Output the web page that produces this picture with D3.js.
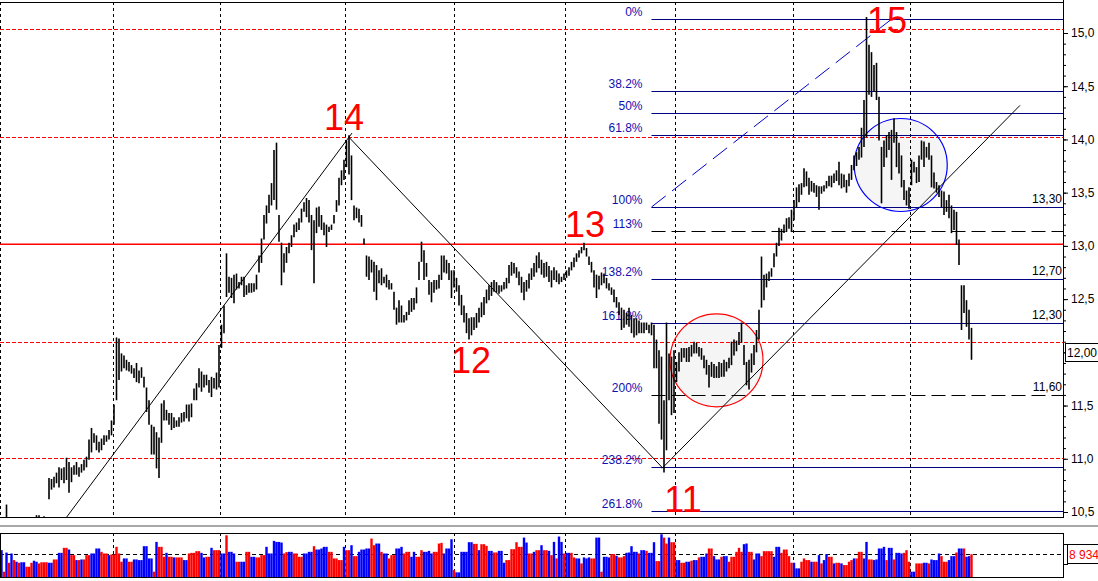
<!DOCTYPE html>
<html><head><meta charset="utf-8">
<script src="https://cdn.jsdelivr.net/npm/d3@7"></script>
<style>body{margin:0;background:#fff;overflow:hidden}svg{display:block;font-family:"Liberation Sans",Arial,sans-serif}</style>
</head><body><svg id="c" width="1098" height="581"></svg>
<script>
const highs = [
10.35,10.30,10.57,10.38,10.36,10.33,10.38,10.35,10.32,10.36,
10.40,10.37,10.34,10.39,10.47,10.47,10.44,10.46,10.45,10.82,
10.81,10.83,10.87,10.92,10.91,10.92,11.01,10.97,10.92,10.94,
10.97,10.92,10.95,10.99,11.02,11.18,11.29,11.24,11.22,11.16,
11.19,11.22,11.22,11.27,11.36,11.51,12.14,12.13,11.99,11.97,
11.93,11.91,11.88,11.85,11.90,11.83,11.86,11.77,11.67,11.55,
11.32,11.30,11.25,11.20,11.52,11.55,11.46,11.43,11.43,11.39,
11.36,11.39,11.43,11.44,11.51,11.51,11.52,11.66,11.71,11.85,
11.82,11.79,11.79,11.74,11.77,11.76,11.81,12.07,12.26,12.44,
12.93,12.71,12.70,12.73,12.74,12.66,12.71,12.71,12.63,12.65,
12.65,12.65,12.73,12.91,13.07,13.29,13.38,13.48,13.59,13.90,
13.97,13.29,13.03,12.93,12.99,13.03,13.10,13.20,13.22,13.26,
13.35,13.41,13.45,13.43,13.29,13.24,13.36,13.37,13.29,13.22,
13.20,13.18,13.20,13.29,13.43,13.64,13.71,13.81,13.99,14.04,
13.85,13.38,13.36,13.35,13.29,13.07,12.91,12.90,12.87,12.85,
12.82,12.77,12.79,12.71,12.73,12.68,12.65,12.57,12.42,12.49,
12.44,12.35,12.38,12.49,12.51,12.51,12.61,12.85,13.04,12.96,
12.84,12.68,12.66,12.68,12.68,12.73,12.91,12.91,12.87,12.84,
12.77,12.77,12.70,12.63,12.54,12.44,12.37,12.32,12.33,12.33,
12.37,12.42,12.47,12.52,12.59,12.63,12.66,12.68,12.66,12.63,
12.63,12.66,12.70,12.82,12.85,12.84,12.80,12.76,12.71,12.66,
12.68,12.74,12.79,12.84,12.91,12.94,12.87,12.84,12.85,12.81,
12.77,12.80,12.77,12.74,12.71,12.74,12.77,12.80,12.85,12.89,
12.93,12.96,12.99,13.03,12.98,12.90,12.85,12.77,12.73,12.72,
12.75,12.74,12.70,12.65,12.61,12.59,12.52,12.47,12.42,12.40,
12.37,12.42,12.35,12.32,12.32,12.30,12.28,12.28,12.28,12.26,
12.28,12.26,12.12,12.02,11.96,11.55,12.28,11.99,11.96,12.02,
11.91,12.00,12.04,12.04,12.04,12.05,12.07,12.10,12.09,12.05,
12.04,11.97,11.93,11.88,11.91,11.89,11.87,11.91,11.90,11.93,
11.91,11.95,12.10,12.12,12.11,12.19,12.28,12.07,11.91,11.93,
11.99,12.07,12.21,12.40,12.90,12.73,12.74,12.76,12.79,12.93,
13.03,13.17,13.16,13.20,13.26,13.27,13.34,13.43,13.55,13.58,
13.59,13.73,13.70,13.64,13.61,13.59,13.57,13.56,13.56,13.57,
13.61,13.66,13.66,13.68,13.71,13.79,13.68,13.67,13.62,13.68,
13.76,13.85,13.88,13.93,14.11,14.37,15.15,14.89,14.82,14.70,
14.72,14.40,13.93,13.99,14.04,14.07,14.09,14.20,14.07,13.97,
13.85,13.62,13.52,13.55,13.81,13.79,13.74,13.85,13.99,13.98,
13.93,13.97,13.85,13.69,13.60,13.57,13.52,13.51,13.43,13.48,
13.38,13.34,13.32,13.06,12.63,12.63,12.49,12.40,12.23];
const lows = [
10.20,10.15,10.40,10.25,10.22,10.20,10.24,10.21,10.18,10.22,
10.26,10.23,10.20,10.25,10.35,10.38,10.30,10.35,10.35,10.62,
10.71,10.73,10.77,10.73,10.80,10.77,10.80,10.68,10.78,10.85,
10.85,10.83,10.87,10.89,10.92,10.99,11.06,11.15,11.08,11.06,
11.08,11.13,11.16,11.18,11.22,11.32,11.55,11.74,11.82,11.85,
11.83,11.82,11.80,11.76,11.72,11.71,11.76,11.67,11.44,11.32,
11.04,11.04,10.91,10.82,11.15,11.36,11.36,11.32,11.27,11.29,
11.30,11.30,11.34,11.35,11.38,11.35,11.39,11.55,11.55,11.67,
11.63,11.67,11.69,11.62,11.58,11.66,11.65,11.67,12.04,12.18,
12.52,12.56,12.51,12.46,12.59,12.60,12.63,12.52,12.54,12.56,
12.56,12.57,12.59,12.75,12.84,13.06,13.21,13.31,13.38,13.43,
13.34,13.04,12.63,12.75,12.84,12.93,12.99,13.08,13.13,13.15,
13.22,13.32,13.27,13.22,12.96,12.65,13.12,13.18,13.15,13.10,
12.99,13.13,13.15,13.21,13.32,13.38,13.57,13.62,13.74,13.67,
13.43,13.24,13.26,13.22,13.18,13.01,12.71,12.68,12.75,12.57,
12.49,12.65,12.63,12.65,12.61,12.59,12.59,12.40,12.26,12.28,
12.28,12.28,12.30,12.35,12.38,12.40,12.46,12.68,12.85,12.68,
12.71,12.54,12.47,12.56,12.59,12.60,12.68,12.75,12.74,12.68,
12.51,12.61,12.57,12.44,12.35,12.28,12.18,12.12,12.16,12.21,
12.23,12.28,12.33,12.35,12.46,12.49,12.53,12.57,12.56,12.55,
12.57,12.59,12.60,12.65,12.72,12.74,12.70,12.63,12.56,12.49,
12.57,12.60,12.68,12.71,12.75,12.79,12.73,12.70,12.71,12.66,
12.61,12.68,12.66,12.64,12.66,12.68,12.70,12.72,12.77,12.80,
12.85,12.89,12.93,12.96,12.90,12.82,12.75,12.61,12.51,12.59,
12.63,12.65,12.60,12.58,12.54,12.47,12.42,12.35,12.21,12.23,
12.26,12.24,12.18,12.14,12.16,12.18,12.18,12.18,12.21,12.18,
12.16,11.85,11.85,11.33,11.18,10.87,11.08,11.55,11.41,11.43,
11.72,11.82,11.91,11.95,11.91,11.91,11.96,11.99,11.99,11.96,
11.93,11.85,11.79,11.67,11.77,11.76,11.76,11.76,11.77,11.77,
11.82,11.85,11.88,11.97,12.01,12.07,12.09,11.88,11.69,11.65,
11.81,11.88,12.00,12.12,12.42,12.49,12.61,12.67,12.71,12.80,
12.90,13.00,13.05,13.12,13.13,13.16,13.13,13.24,13.36,13.41,
13.48,13.55,13.56,13.48,13.51,13.50,13.46,13.34,13.49,13.51,
13.54,13.56,13.55,13.59,13.61,13.57,13.54,13.55,13.50,13.56,
13.62,13.71,13.75,13.81,13.83,13.93,14.02,14.42,14.40,14.45,
14.37,13.99,13.40,13.74,13.83,13.90,13.62,13.97,13.74,13.68,
13.55,13.43,13.38,13.35,13.57,13.69,13.59,13.60,13.81,13.74,
13.83,13.81,13.55,13.54,13.50,13.46,13.36,13.29,13.32,13.26,
13.12,13.15,13.01,12.82,12.21,12.37,12.24,12.12,11.93];
const volumes = [
10550,2090,9600,5600,9250,6650,6000,5600,5800,5800,
4040,4040,5600,6400,6000,5340,5800,5800,5800,5600,
5600,6900,6900,9500,9500,11470,11470,10800,8600,8600,
6650,6650,6900,6900,8600,8600,9250,9250,11210,11210,
9900,9250,9250,8600,8860,8860,11860,9250,6000,7300,
7300,6000,6000,6900,6900,6650,6650,12120,12120,7300,
7300,2090,13800,11860,11860,7950,9500,7950,7950,7700,
7700,7700,7700,6650,6650,9250,9500,9500,10150,10150,
9500,7700,7950,7950,11470,10550,10550,10550,9250,9250,
16400,9900,9900,9250,6000,6000,6000,6000,9900,9900,
7950,7950,7700,7700,8600,8600,11860,9250,9250,14200,
13800,13800,13550,9250,9770,9900,9900,9250,9250,7950,
7950,9250,9250,9900,9900,12120,10800,10800,11210,11860,
11860,9900,9900,7300,7300,6650,6650,11860,10550,10550,
12500,8200,8200,9900,10800,10800,11210,11210,15100,12500,
13160,13160,9900,9250,9250,7300,8600,8600,11210,11210,
11860,9250,9900,9900,7950,9900,7950,7950,10550,9900,
9900,10280,9250,9900,9900,13160,13420,9250,11210,11210,
14850,2740,1830,1830,9900,9900,9900,13680,13680,13030,
13030,10550,12900,12900,12250,10280,10280,9640,9640,10280,
10280,5600,6650,6650,10940,10940,13680,11860,11860,15500,
13550,9250,9250,9900,10550,10550,12500,10550,10550,10280,
8600,13800,7300,15900,13800,9250,9500,9500,9500,7700,
7300,7300,5340,7700,7300,7700,7300,7300,15500,15500,
2090,7950,7950,7700,9000,9000,8340,7700,7700,8200,
9500,9640,12120,9900,9900,9250,10550,10550,10280,9500,
9500,13680,6250,6250,16800,15500,13160,15500,13680,13680,
6650,6650,5600,5600,6000,6000,6400,6650,6650,7700,
7950,7950,9250,11210,11210,8200,6900,6900,7950,8200,
8200,6000,7950,7950,9900,11470,9900,12900,13160,9900,
9900,6900,9250,9250,8200,10150,10150,10150,10150,7950,
11860,11860,9500,10800,10800,8200,5600,5600,3390,3390,
6000,7300,6650,6650,6000,6000,6000,8600,5340,6650,
9000,7950,7950,5340,5600,5600,5340,4690,4690,6000,
6650,7300,7300,9900,9900,7300,13800,6900,6900,6650,
6900,11210,11210,11860,6650,11470,11470,6900,9500,9500,
9250,9500,10550,6000,2090,2090,5340,5340,5340,5600,
5600,5340,6900,6650,6650,9250,8200,6000,6000,6650,
8200,8200,9640,11210,11210,11210,7950,8200,8934];
const volDir = ("BRBRBRBRBB"+"RRRBBRRRRB"+"BRRBBRRBRR"+"BRBRRRBBBB"+"RRRBRRRRRB"+
 "BRRBBBBBBB"+"BRBRRRBRRB"+"RRRBBRRRRR"+"BBRRBRRRBB"+"RBBBRRBBRR"+
 "BBRRRRBBBB"+"BBBRRBBRRR"+"RBBBBRBBBB"+"BRRRRRRBRR"+"BRRBBBBBRR"+
 "BBRBBRRRBB"+"BRRRBBRRRB"+"BBBRRRRBBB"+"BRBBBBBBBR"+"RBRRRBBRRB"+
 "BBRRRRRRRB"+"BRRBRRBRRB"+"RBRBBRBBRR"+"BBRBBBRRBB"+"RBBBRRBRRR"+
 "BBBBBRBBRB"+"BBRRBRRBRR"+"BBRRBBRBBR"+"BBBRRBBBRB"+"BRRRRRRBBR"+
 "RBBBRRRRRB"+"BBRRRRRBBB"+"RRRRBRRBRB"+"BRRBRRBRRR"+"RBRRRBBRRB"+
 "BBBBRBBRBB"+"BRRRBBRRRB"+"BRBBBBRRRB"+"BBRBBRBBR").split("");

const yTicks = [10.5,11,11.5,12,12.5,13,13.5,14,14.5,15];
const gridIdx = [-0.5,44.5,87.5,137.5,181,225.5,269.5,316.5,363.5];
const redDashed = [15.04,14.02,12.10,11.01];
const redSolid = [13.015];
const fibRatios = [0,0.382,0.5,0.618,1,1.13,1.382,1.618,2,2.382,2.618];
const fibLabels = ["0%","38.2%","50%","61.8%","100%","113%","138.2%","161.8%","200%","238.2%","261.8%"];
const fibDashedRatios = [1.13,2];
const fibHigh = 15.13, fibLow = 13.365;
const fibStartIdx = 260, fibEndIdx = 356;
const levelRatios = [1,1.382,1.618,2];
const levelTexts = ["13,30","12,70","12,30","11,60"];
const trendLines = [[[26,10.45],[140.2,14.06]],[[139,14.02],[264.2,10.92]],[[264.2,10.91],[407.4,14.32]]];
const waveTexts = ["14","15","13","12","11"];
const waveIdx = [137,354.2,233.4,187.8,272.6];
const wavePrice = [14.09,15.0,13.08,11.81,10.50];
const circleIdx = [286,359.7];
const circlePrice = [11.925,13.76];
const circleColors = ["#ff0000","#0000ff"];
const lastPrice = 12.00;
const lastVolume = 8934;
const volGrid = 9000;
const volTicks = [5000,13000];

const W=1098,H=581,plotL=0,plotR=1063,plotT=2,plotB=517,volT=533,volB=577;
const N = highs.length;
const svg = d3.select("#c");
const x = d3.scaleLinear().domain([0,N-1]).range([1.5,1.5+2.5*(N-1)]);
const y = d3.scaleLinear().domain([10.5,15]).range([512,33]);
const yv = d3.scaleLinear().domain([0,17300]).range([volB,volT]);
const fibPrice = r => fibHigh - r*(fibHigh-fibLow);
const px = v => Math.round(v)+0.5;

svg.append("rect").attr("width",W).attr("height",H).attr("fill","#fff");
const defs = svg.append("defs");
defs.append("clipPath").attr("id","pc").append("rect").attr("x",plotL).attr("y",plotT).attr("width",plotR-plotL).attr("height",plotB-plotT);
defs.append("clipPath").attr("id","vc").append("rect").attr("x",plotL).attr("y",volT).attr("width",plotR-plotL).attr("height",volB-volT);

const g = svg.append("g").attr("clip-path","url(#pc)");

g.selectAll("circle.f").data(circleIdx).join("circle")
 .attr("cx",d=>x(d)).attr("cy",(d,i)=>y(circlePrice[i])).attr("r",46.5)
 .attr("fill","#f5f5f5").attr("stroke","none");

g.selectAll("line.vg").data(gridIdx).join("line")
 .attr("x1",d=>px(x(d))).attr("x2",d=>px(x(d))).attr("y1",plotT).attr("y2",plotB)
 .attr("stroke","#000").attr("stroke-dasharray","3,3").attr("stroke-width",1);

g.selectAll("line.rd").data(redDashed).join("line")
 .attr("x1",plotL).attr("x2",plotR).attr("y1",d=>px(y(d))).attr("y2",d=>px(y(d)))
 .attr("stroke","#ff0000").attr("stroke-dasharray","4,2").attr("stroke-width",1);
g.selectAll("line.rs").data(redSolid).join("line")
 .attr("x1",plotL).attr("x2",plotR).attr("y1",d=>y(d)).attr("y2",d=>y(d))
 .attr("stroke","#ff0000").attr("stroke-width",1.5);

const fx0 = x(fibStartIdx);
g.selectAll("line.fib").data(fibRatios).join("line")
 .attr("x1",fx0).attr("x2",plotR).attr("y1",d=>px(y(fibPrice(d)))).attr("y2",d=>px(y(fibPrice(d))))
 .attr("stroke",d=>fibDashedRatios.includes(d)?"#000":"#000080")
 .attr("stroke-dasharray",d=>fibDashedRatios.includes(d)?"14,6":null)
 .attr("stroke-width",1.2);
g.selectAll("text.fib").data(fibRatios).join("text")
 .attr("x",fx0-9).attr("y",d=>y(fibPrice(d))-3).attr("text-anchor","end")
 .attr("font-size",12).attr("fill","#1010b0").text((d,i)=>fibLabels[i]);
g.selectAll("text.lvl").data(levelRatios).join("text")
 .attr("x",plotR-1).attr("y",d=>y(fibPrice(d))-4).attr("text-anchor","end")
 .attr("font-size",12).attr("fill","#000").text((d,i)=>levelTexts[i]);
g.append("line").attr("x1",x(fibStartIdx)).attr("y1",y(fibLow)).attr("x2",x(fibEndIdx)).attr("y2",y(fibHigh))
 .attr("stroke","#0000cc").attr("stroke-dasharray","18,8").attr("stroke-width",1);

g.selectAll("circle.o").data(circleIdx).join("circle")
 .attr("cx",d=>x(d)).attr("cy",(d,i)=>y(circlePrice[i])).attr("r",46.5)
 .attr("fill","none").attr("stroke",(d,i)=>circleColors[i]).attr("stroke-width",1.2);

g.selectAll("line.bar").data(highs).join("line")
 .attr("x1",(d,i)=>x(i)).attr("x2",(d,i)=>x(i))
 .attr("y1",d=>y(d)).attr("y2",(d,i)=>y(lows[i]))
 .attr("stroke","#000").attr("stroke-width",1.6);

g.selectAll("line.tl").data(trendLines).join("line")
 .attr("x1",d=>x(d[0][0])).attr("y1",d=>y(d[0][1])).attr("x2",d=>x(d[1][0])).attr("y2",d=>y(d[1][1]))
 .attr("stroke","#000").attr("stroke-width",1);

svg.append("line").attr("x1",0).attr("x2",plotR).attr("y1",plotT+0.5).attr("y2",plotT+0.5).attr("stroke","#000");
svg.append("line").attr("x1",0).attr("x2",plotR).attr("y1",plotB+0.5).attr("y2",plotB+0.5).attr("stroke","#000");
svg.append("line").attr("x1",plotR+0.5).attr("x2",plotR+0.5).attr("y1",0).attr("y2",plotB+1).attr("stroke","#000");

svg.selectAll("text.w").data(waveTexts).join("text")
 .attr("x",(d,i)=>x(waveIdx[i])).attr("y",(d,i)=>y(wavePrice[i]))
 .attr("text-anchor","middle").attr("font-size",36).attr("fill","#ff0000").text(d=>d);

const minor = d3.range(105,151).map(v=>v/10);
const axMinor = d3.axisRight(y).tickValues(minor).tickSize(3).tickFormat("");
const axMajor = d3.axisRight(y).tickValues(yTicks).tickSize(5).tickPadding(3)
 .tickFormat(d=>Math.abs(d-lastPrice)<0.01?"":d.toFixed(1).replace(".",","));
const a1 = svg.append("g").attr("transform",`translate(${plotR},0)`).call(axMinor);
const a2 = svg.append("g").attr("transform",`translate(${plotR},0)`).call(axMajor);
[a1,a2].forEach(a=>{a.select(".domain").remove();a.selectAll("line").attr("stroke","#000");});
a2.selectAll("text").attr("font-size",12).attr("fill","#000").attr("font-family","Liberation Sans, Arial, sans-serif");

svg.append("rect").attr("x",1065.5).attr("y",Math.round(y(lastPrice))-8.5).attr("width",40).attr("height",18)
 .attr("fill","#fff").attr("stroke","#000");
svg.append("text").attr("x",1067).attr("y",y(lastPrice)+4.5).attr("font-size",12).attr("fill","#000")
 .text(lastPrice.toFixed(2).replace(".",","));

svg.append("line").attr("x1",0).attr("x2",W).attr("y1",526).attr("y2",526).attr("stroke","#a8a8a8").attr("stroke-width",2);

const gv = svg.append("g").attr("clip-path","url(#vc)");
gv.selectAll("line.vvg").data(gridIdx).join("line")
 .attr("x1",d=>px(x(d))).attr("x2",d=>px(x(d))).attr("y1",volT).attr("y2",volB)
 .attr("stroke","#000").attr("stroke-dasharray","3,3");
gv.append("line").attr("x1",plotL).attr("x2",plotR).attr("y1",px(yv(volGrid))).attr("y2",px(yv(volGrid)))
 .attr("stroke","#000").attr("stroke-dasharray","4,3");
gv.selectAll("rect.v").data(volumes).join("rect")
 .attr("x",(d,i)=>x(i)-1.2).attr("width",2.4)
 .attr("y",d=>yv(d)).attr("height",d=>volB-yv(d))
 .attr("fill",(d,i)=>volDir[i]==="B"?"#0000ff":"#ff0000");
svg.append("rect").attr("x",0.5).attr("y",volT+0.5).attr("width",plotR).attr("height",volB-volT)
 .attr("fill","none").attr("stroke","#000");
svg.selectAll("line.vt").data(volTicks).join("line")
 .attr("x1",plotR).attr("x2",plotR+5).attr("y1",d=>px(yv(d))).attr("y2",d=>px(yv(d))).attr("stroke","#000");
svg.append("rect").attr("x",1067.5).attr("y",Math.round(yv(lastVolume))-9.5).attr("width",40).attr("height",19)
 .attr("fill","#fff").attr("stroke","#000");
svg.append("text").attr("x",1069).attr("y",yv(lastVolume)+4.5).attr("font-size",12).attr("fill","#ff0000")
 .text(d3.format(",")(lastVolume).replace(","," "));
</script></body></html>
